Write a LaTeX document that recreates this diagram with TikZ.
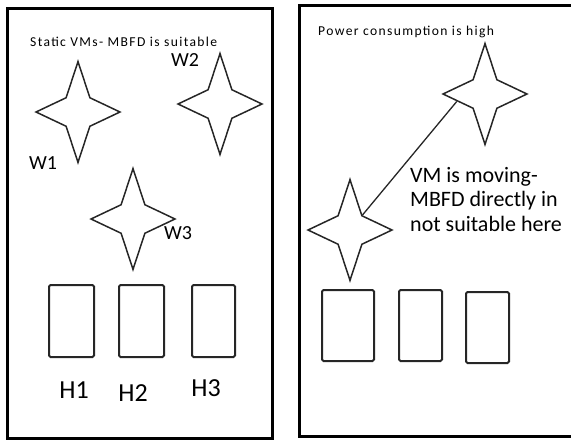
\documentclass[tikz,border=0pt]{standalone}
\usepackage{fontspec}
\setmainfont{Carlito}
\newfontfamily\notefont{Carlito}[LetterSpace=10]
\usetikzlibrary{shapes.geometric,positioning,calc}
\tikzset{
    % frame of each data centre
    panel/.style={draw=black, line width=3pt},
    % four pointed star for a VM
    vm/.style={
      star, star points=4, star point ratio=2.5,
      draw=black!85, line width=1.5pt,
      minimum size=84pt, inner sep=0pt,
      yscale=1.2, transform shape},
    % host box
    host/.style={
      rectangle, rounded corners=1.5pt,
      draw=black!85, line width=2pt,
      minimum width=45pt, minimum height=72pt,
      inner sep=0pt},
    % labels
    vmlbl/.style={font=\fontsize{20}{24}\selectfont, inner sep=0pt},
    hostlbl/.style={font=\fontsize{26}{30}\selectfont, inner sep=0pt},
    note/.style={font=\notefont\fontsize{13.6}{15}\selectfont, inner sep=0pt},
    % migration line
    move/.style={draw=black!85, line width=1.3pt}
}
\begin{document}
\begin{tikzpicture}[x=1pt, y=-1pt]
    \clip (0,0) rectangle (571,442);
    % static placement
    \draw[panel] (7,8) rectangle (272,438);
    \node[note, anchor=west] (static) at (30,42) {Static VMs- MBFD is suitable};
    \node[vm] (w1) at (78,112) {};
    \node[vm] (w2) at (220,104) {};
    \node[vm] (w3) at (133,219) {};
    \node[vmlbl] (w1lbl) at (43,163) {W1};
    \node[vmlbl] (w2lbl) at (185,60) {W2};
    \node[vmlbl] (w3lbl) at (178,233) {W3};
    \node[host] (h1) at (71.5,321) {};
    \node[host, right=23pt of h1] (h2) {};
    \node[host, right=26pt of h2, minimum width=43pt] (h3) {};
    \node[hostlbl] (h1lbl) at (74,390) {H1};
    \node[hostlbl] (h2lbl) at (133,393) {H2};
    \node[hostlbl] (h3lbl) at (206,388) {H3};
    % moving VM
    \draw[panel] (299,5) rectangle (590,436);
    \node[note, anchor=west] (power) at (318,32) {Power consumption is high};
    \node[vm] (hi) at (485,94) {};
    \node[vm] (lo) at (350,230) {};
    \draw[move] (lo.inner point 4) -- ($(hi.outer point 2)!0.5!(hi.inner point 2)$);
    \node[vmlbl, font=\fontsize{22}{24.5}\selectfont, align=left, anchor=north west] (moving) at (410,167)
      {VM is moving-\\MBFD directly in\\not suitable here};
    \node[host, minimum width=52pt, minimum height=71pt] (r1) at (348,325.5) {};
    \node[host, minimum width=43pt, minimum height=71pt, right=23pt of r1] (r2) {};
    \node[host, minimum width=43pt, minimum height=71pt, right=22pt of r2, yshift=-2pt] (r3) {};
\end{tikzpicture}
\end{document}
